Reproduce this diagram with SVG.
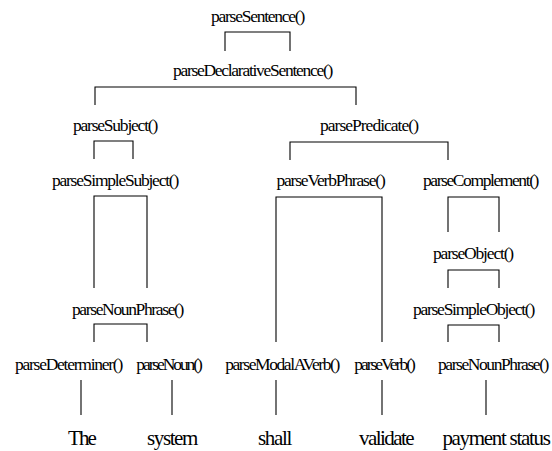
<svg xmlns="http://www.w3.org/2000/svg" width="552" height="451" viewBox="0 0 552 451">
<style>
.c path{fill:none;stroke:#000;stroke-width:1.1}
</style>
<rect width="552" height="451" fill="#fff"/>
<g class="c" id="connectors">
<path d="M225,51V32H290V51"/>
<path d="M95,105V87H356V105"/>
<path d="M94,159V141H133V159"/>
<path d="M290,160V142H448V160"/>
<path d="M94,288V196H147V288"/>
<path d="M276,342V197H382V342"/>
<path d="M448,232V197H499V232"/>
<path d="M448,288V270H499V288"/>
<path d="M94,342V324H147V342"/>
<path d="M448,342V325H499V342"/>
<path d="M81,380V415"/>
<path d="M172,380V415"/>
<path d="M276,380V415"/>
<path d="M382,380V415"/>
<path d="M486,380V415"/>
</g>
<g id="nodes" font-family="Liberation Serif" font-size="17.5" text-anchor="middle" fill="#000">
<g id="n-sentence"><text x="257.5" y="22" letter-spacing="-1.25">parseSentence()</text></g>
<g id="n-declarative"><text x="252.5" y="76" letter-spacing="-1.28">parseDeclarativeSentence()</text></g>
<g id="n-subject"><text x="115" y="131" letter-spacing="-1.22">parseSubject()</text></g>
<g id="n-predicate"><text x="369" y="131" letter-spacing="-0.98">parsePredicate()</text></g>
<g id="n-simplesubject"><text x="115" y="186" letter-spacing="-1.23">parseSimpleSubject()</text></g>
<g id="n-verbphrase"><text x="330.5" y="186" letter-spacing="-1.19">parseVerbPhrase()</text></g>
<g id="n-complement"><text x="480.5" y="186" letter-spacing="-1.41">parseComplement()</text></g>
<g id="n-object"><text x="473" y="259" letter-spacing="-1.17">parseObject()</text></g>
<g id="n-nounphrase1"><text x="127.5" y="315" letter-spacing="-1.36">parseNounPhrase()</text></g>
<g id="n-simpleobject"><text x="473.5" y="315" letter-spacing="-1.25">parseSimpleObject()</text></g>
<g id="n-determiner"><text x="68.5" y="370" letter-spacing="-1.25">parseDeterminer()</text></g>
<g id="n-noun"><text x="168.5" y="370" letter-spacing="-2.1">parseNoun()</text></g>
<g id="n-modal"><text x="282" y="370" letter-spacing="-1.41">parseModalAVerb()</text></g>
<g id="n-verb"><text x="384" y="370" letter-spacing="-2.0">parseVerb()</text></g>
<g id="n-nounphrase2"><text x="493" y="370" letter-spacing="-1.42">parseNounPhrase()</text></g>
</g>
<g id="words" font-family="Liberation Serif" font-size="21" text-anchor="middle" fill="#000">
<g id="w-the"><text x="81.5" y="445" letter-spacing="-1.9">The</text></g>
<g id="w-system"><text x="172" y="445" letter-spacing="-1.4">system</text></g>
<g id="w-shall"><text x="274.5" y="445" letter-spacing="-1.3">shall</text></g>
<g id="w-validate"><text x="386" y="445" letter-spacing="-1.56">validate</text></g>
<g id="w-payment"><text x="496" y="445" letter-spacing="-1.3">payment status</text></g>
</g>
</svg>
